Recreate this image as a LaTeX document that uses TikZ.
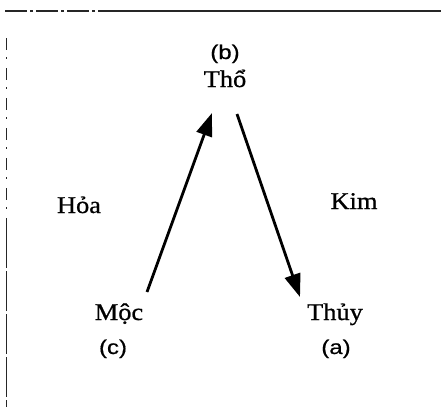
\documentclass[tikz,border=0pt]{standalone}
\usepackage{fontspec}
\setmainfont{Liberation Serif}
\newfontfamily\vser{Liberation Serif}[FakeStretch=1.1,FakeBold=0.8]
\newfontfamily\vsans{Liberation Sans}[FakeStretch=1.2,FakeBold=0.5]
\usetikzlibrary{arrows.meta}
\begin{document}
\begin{tikzpicture}[x=1pt,y=-1pt,
  word/.style={inner sep=0pt,anchor=base,font=\vser\fontsize{24}{26}\selectfont},
  lab/.style={inner sep=0pt,anchor=base,font=\vsans\fontsize{20}{22}\selectfont},
  arr/.style={line width=2.8pt,-{Triangle[length=23pt,width=16pt]}},
  frame/.style={line width=1.4pt,black!85}]
\useasboundingbox (0,0) rectangle (441,407);
% frame
\coordinate (tl) at (5,11);
\coordinate (tm) at (100,11);
\coordinate (tr) at (441,11);
\draw[frame,dash pattern=on 22pt off 3pt on 3pt off 3pt] (tl) -- (tm);
\draw[frame] (tm) -- (tr);
\coordinate (l1) at (6,38);
\coordinate (l2) at (6,228);
\coordinate (l3) at (6,407);
\draw[frame,line width=1pt,dash pattern=on 12pt off 7pt on 2pt off 9pt] (l1) -- (l2);
\draw[frame,line width=1pt,dash pattern=on 40pt off 3pt] (l2) -- (l3);
% texts
\node[lab] (b) at (225,59) {(b)};
\node[word] (tho) at (225,87) {Thổ};
\node[word] (hoa) at (79,213) {Hỏa};
\node[word] (kim) at (354,209) {Kim};
\node[word] (moc) at (119,320) {Mộc};
\node[lab] (c) at (113,354) {(c)};
\node[word] (thuy) at (335,320) {Thủy};
\node[lab] (a) at (336,354) {(a)};
% arrows
\coordinate (c1) at (147,292);
\coordinate (c2) at (212,113);
\coordinate (c3) at (237,114);
\coordinate (c4) at (300,297);
\draw[arr] (c1) -- (c2);
\draw[arr] (c3) -- (c4);
\end{tikzpicture}
\end{document}
